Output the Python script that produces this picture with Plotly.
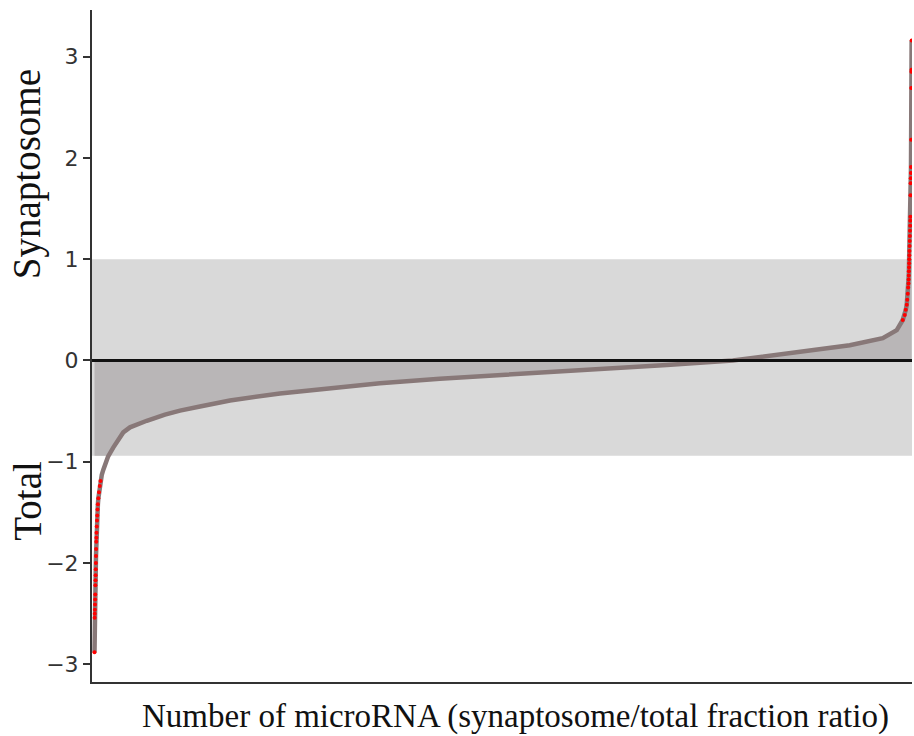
import numpy as np
import plotly.graph_objects as go

# ranks (sorted microRNA index) and log ratio values
left_red_rank = [20, 21, 22, 23, 24, 25, 26, 27, 28, 29, 30, 31, 32, 33, 34, 35, 36,
                 38, 40, 42, 44, 47, 51, 56, 62, 68]
left_red_value = [-2.88, -2.54, -2.50, -2.46, -2.41, -2.36, -2.31, -2.22, -2.17, -2.12,
                  -2.06, -2.00, -1.93, -1.86, -1.79, -1.75, -1.70,
                  -1.64, -1.58, -1.53, -1.47, -1.42, -1.36, -1.30, -1.24, -1.19]

mid_rank = [78, 90, 106, 128, 170, 208, 250, 304, 384, 438, 584, 704, 864, 1104,
            1504, 1904, 2304, 2784, 3264, 4064, 4600, 5128, 5664, 6064, 6328, 6440]
mid_value = [-1.13, -1.08, -1.02, -0.95, -0.86, -0.79, -0.71, -0.66, -0.62, -0.595,
             -0.535, -0.495, -0.455, -0.395, -0.325, -0.27, -0.225, -0.18, -0.145,
             -0.094, -0.044, 0.0, 0.09, 0.15, 0.22, 0.30]

right_red_rank = [6488, 6504, 6512, 6520, 6524, 6528, 6531] + list(range(6534, 6560))
right_red_value = [0.40, 0.45, 0.50, 0.55, 0.60, 0.66, 0.72,
                   0.76, 0.80, 0.84, 0.88, 0.92, 0.96, 1.00, 1.04, 1.08, 1.13, 1.18,
                   1.23, 1.28, 1.33, 1.38, 1.42, 1.63, 1.75, 1.80, 1.85, 1.91, 2.18,
                   2.69, 2.85, 2.87, 3.16]

band_low, band_high = -0.94, 1.0
y_ticks = [-3, -2, -1, 0, 1, 2, 3]

all_rank = left_red_rank + mid_rank + right_red_rank
all_value = left_red_value + mid_value + right_red_value
clipped = np.clip(np.array(all_value), band_low, band_high)

fig = go.Figure()
fig.add_trace(go.Scatter(x=all_rank, y=clipped, mode="lines", fill="tozeroy",
                         fillcolor="#b9b6b7", line=dict(width=0), hoverinfo="skip"))
fig.add_trace(go.Scatter(x=all_rank, y=all_value, mode="lines",
                         line=dict(color="rgb(136,120,120)", width=4.5)))
fig.add_trace(go.Scatter(x=left_red_rank + right_red_rank,
                         y=left_red_value + right_red_value, mode="markers",
                         marker=dict(color="#ff0000", size=4, line=dict(width=0))))

fig.add_shape(type="rect", xref="paper", yref="y", x0=0, x1=1, y0=band_low, y1=band_high,
              fillcolor="#d9d9d9", line=dict(width=0), layer="below")
fig.add_shape(type="line", xref="paper", yref="y", x0=0, x1=1, y0=0, y1=0,
              line=dict(color="#111111", width=3), layer="above")

serif = "Liberation Serif, Times New Roman, serif"
fig.add_annotation(text="Number of microRNA (synaptosome/total fraction ratio)",
                   xref="paper", yref="paper", x=0.516, y=-0.051, xanchor="center",
                   yanchor="middle", showarrow=False,
                   font=dict(family=serif, size=33, color="#111111"))
fig.add_annotation(text="Synaptosome", textangle=-90, xref="paper", yref="paper",
                   x=-0.079, y=0.756, xanchor="center", yanchor="middle", showarrow=False,
                   font=dict(family=serif, size=39, color="#111111"))
fig.add_annotation(text="Total", textangle=-90, xref="paper", yref="paper",
                   x=-0.079, y=0.27, xanchor="center", yanchor="middle", showarrow=False,
                   font=dict(family=serif, size=39, color="#111111"))

fig.update_layout(
    width=914, height=736, showlegend=False,
    margin=dict(l=92, r=2, t=10, b=54, autoexpand=False),
    paper_bgcolor="white", plot_bgcolor="white",
    xaxis=dict(range=[0, 6562], showticklabels=False, ticks="", showgrid=False,
               zeroline=False, showline=True, linecolor="#333333", linewidth=2),
    yaxis=dict(range=[-3.174, 3.46], tickvals=y_ticks, ticks="outside", ticklen=7,
               tickwidth=1.5, tickcolor="#333333", showgrid=False, zeroline=False,
               showline=True, linecolor="#333333", linewidth=2,
               tickfont=dict(family="DejaVu Sans", size=22, color="#333333")),
)

fig.write_html("out.html", config={"displayModeBar": False},
               post_script="document.body.style.margin='0';document.body.style.overflow='hidden';")
